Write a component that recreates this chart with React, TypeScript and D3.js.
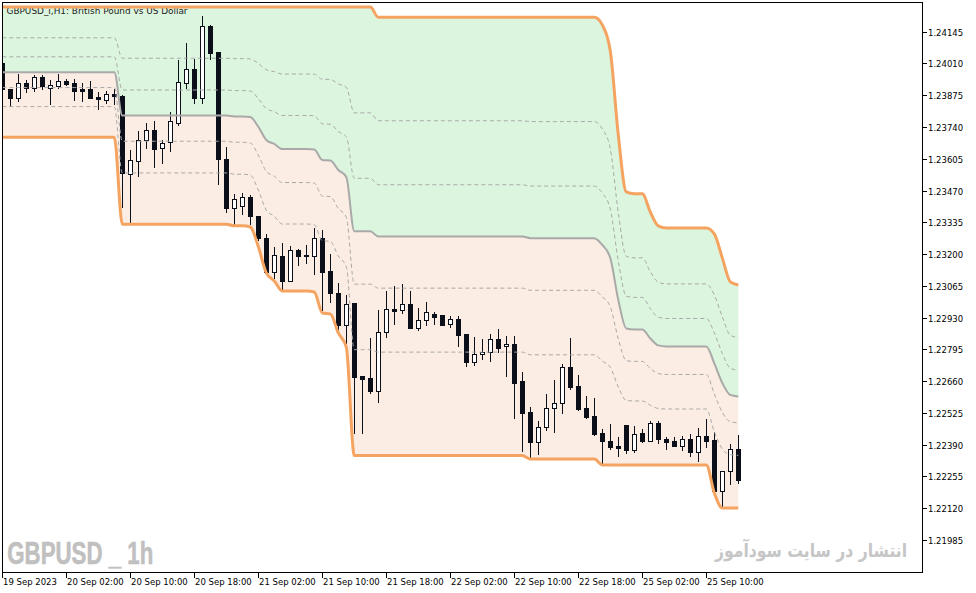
import * as d3 from "d3";

// GBPUSD H1, 19 Sep 18:00 -> 25 Sep 14:00 (one entry per bar)
const OPEN = [
  1.24012, 1.23902, 1.23864, 1.23927, 1.23905, 1.23952, 1.23905, 1.23916, 1.23937, 1.23927,
  1.23902, 1.23901, 1.23867, 1.23856, 1.2388, 1.23872, 1.23541, 1.23597, 1.23684, 1.23726,
  1.2365, 1.23678, 1.23756, 1.23929, 1.23985, 1.23865, 1.2417, 1.24058, 1.23603, 1.23395,
  1.23403, 1.23441, 1.23361, 1.23267, 1.23125, 1.23191, 1.23087, 1.23216, 1.23193, 1.23193,
  1.23267, 1.23127, 1.23036, 1.229, 1.22991, 1.22682, 1.22672, 1.2262, 1.22868, 1.22967,
  1.22961, 1.22987, 1.22887, 1.22919, 1.22946, 1.22941, 1.22902, 1.22923, 1.22859, 1.22743,
  1.22774, 1.22783, 1.22838, 1.22808, 1.22817, 1.22659, 1.22528, 1.22403, 1.22464, 1.22545,
  1.22566, 1.22719, 1.22638, 1.22545, 1.22511, 1.22438, 1.22404, 1.22385, 1.22472, 1.22366,
  1.22438, 1.22406, 1.22481, 1.22414, 1.22404, 1.22383, 1.22413, 1.22358, 1.22426, 1.22409,
  1.22195, 1.22277, 1.2237,
];
const HIGH = [
  1.24021, 1.23902, 1.23966, 1.23938, 1.2396, 1.23961, 1.2394, 1.23965, 1.23943, 1.23946,
  1.23926, 1.23937, 1.23887, 1.23893, 1.23903, 1.23876, 1.23643, 1.23723, 1.23756, 1.23766,
  1.23685, 1.23803, 1.24025, 1.24099, 1.24028, 1.24212, 1.24172, 1.24059, 1.23654, 1.23454,
  1.23458, 1.2345, 1.23362, 1.23284, 1.23229, 1.23246, 1.23233, 1.23223, 1.23237, 1.2331,
  1.23301, 1.23199, 1.23076, 1.23025, 1.22992, 1.22682, 1.22842, 1.22963, 1.23043, 1.23063,
  1.23072, 1.23043, 1.2297, 1.22995, 1.22953, 1.22941, 1.22936, 1.22936, 1.22859, 1.22848,
  1.22839, 1.22859, 1.2288, 1.22852, 1.22852, 1.22699, 1.2255, 1.22491, 1.22604, 1.22665,
  1.22732, 1.22844, 1.22685, 1.22596, 1.22587, 1.22457, 1.22477, 1.22424, 1.22472, 1.22471,
  1.22457, 1.22491, 1.22491, 1.22421, 1.22421, 1.22427, 1.22434, 1.2246, 1.22498, 1.22445,
  1.22277, 1.22392, 1.2243,
];
const LOW = [
  1.23898, 1.2383, 1.23851, 1.2389, 1.23895, 1.239, 1.23839, 1.23907, 1.2392, 1.23855,
  1.23852, 1.23864, 1.23818, 1.23843, 1.23838, 1.23398, 1.23338, 1.23533, 1.2365, 1.23572,
  1.23589, 1.2364, 1.23749, 1.23907, 1.23844, 1.23844, 1.24028, 1.23496, 1.2338, 1.23327,
  1.23369, 1.23329, 1.2326, 1.23116, 1.231, 1.2305, 1.23086, 1.23155, 1.23164, 1.23117,
  1.22961, 1.22998, 1.22878, 1.22821, 1.22438, 1.22438, 1.22611, 1.2257, 1.22849, 1.22902,
  1.22948, 1.22886, 1.22879, 1.22899, 1.22904, 1.229, 1.22889, 1.22811, 1.22726, 1.2273,
  1.22753, 1.22747, 1.22785, 1.22683, 1.22505, 1.22365, 1.22331, 1.22352, 1.22453, 1.22445,
  1.22523, 1.22628, 1.22538, 1.22502, 1.22433, 1.22309, 1.22373, 1.22343, 1.22353, 1.2236,
  1.224, 1.22406, 1.22396, 1.2237, 1.22383, 1.22366, 1.22343, 1.22322, 1.22382, 1.22195,
  1.22131, 1.22222, 1.22229,
];
const CLOSE = [
  1.23902, 1.23864, 1.23927, 1.23905, 1.23952, 1.23915, 1.23917, 1.23935, 1.23923, 1.23895,
  1.23894, 1.23865, 1.23857, 1.2388, 1.2387, 1.23543, 1.23599, 1.23683, 1.23726, 1.23648,
  1.23674, 1.23764, 1.23932, 1.23985, 1.23865, 1.24168, 1.24056, 1.23602, 1.23397, 1.23433,
  1.23441, 1.23361, 1.23267, 1.23125, 1.23195, 1.23087, 1.23216, 1.23193, 1.23195, 1.23267,
  1.23125, 1.23036, 1.229, 1.22989, 1.22679, 1.22671, 1.2262, 1.22868, 1.22965, 1.2296,
  1.22988, 1.22887, 1.22919, 1.22953, 1.22934, 1.229, 1.22923, 1.22858, 1.22743, 1.22774,
  1.22783, 1.22838, 1.22802, 1.22817, 1.22654, 1.22526, 1.22403, 1.22464, 1.22545, 1.22566,
  1.22719, 1.22637, 1.22542, 1.22509, 1.22437, 1.22404, 1.22382, 1.22377, 1.22366, 1.22437,
  1.22404, 1.22481, 1.22413, 1.224, 1.22383, 1.22413, 1.22358, 1.22426, 1.22407, 1.22195,
  1.22277, 1.2237, 1.22241,
];

// channel borders
const UPPER = [
  1.2425, 1.2425, 1.2425, 1.2425, 1.2425, 1.2425, 1.2425, 1.2425, 1.2425, 1.2425,
  1.2425, 1.2425, 1.2425, 1.2425, 1.2425, 1.2425, 1.2425, 1.2425, 1.2425, 1.2425,
  1.2425, 1.2425, 1.2425, 1.2425, 1.2425, 1.2425, 1.2425, 1.2425, 1.2425, 1.2425,
  1.2425, 1.2425, 1.2425, 1.2425, 1.2425, 1.2425, 1.2425, 1.2425, 1.2425, 1.2425,
  1.2425, 1.2425, 1.2425, 1.2425, 1.2425, 1.2425, 1.2425, 1.24206, 1.24206, 1.24206,
  1.24206, 1.24206, 1.24206, 1.24206, 1.24206, 1.24206, 1.24206, 1.24206, 1.24206, 1.24206,
  1.24206, 1.24206, 1.24206, 1.24206, 1.24206, 1.24206, 1.24206, 1.24206, 1.24206, 1.24206,
  1.24206, 1.24206, 1.24206, 1.24206, 1.24206, 1.24174, 1.24063, 1.23706, 1.23464, 1.23456,
  1.23456, 1.23379, 1.2332, 1.23311, 1.23311, 1.23311, 1.23311, 1.23311, 1.23311, 1.23286,
  1.23184, 1.23082, 1.23069,
];
const LOWER = [
  1.23696, 1.23696, 1.23696, 1.23696, 1.23696, 1.23696, 1.23696, 1.23696, 1.23696, 1.23696,
  1.23696, 1.23696, 1.23696, 1.23696, 1.23696, 1.23327, 1.23327, 1.23327, 1.23327, 1.23327,
  1.23327, 1.23327, 1.23327, 1.23327, 1.23327, 1.23327, 1.23327, 1.23327, 1.23327, 1.2332,
  1.2332, 1.23315, 1.23232, 1.2312, 1.23086, 1.23043, 1.23043, 1.23043, 1.23043, 1.23039,
  1.2295, 1.22946, 1.22865, 1.22805, 1.22344, 1.22344, 1.22344, 1.22344, 1.22344, 1.22344,
  1.22344, 1.22344, 1.22344, 1.22344, 1.22344, 1.22344, 1.22344, 1.22344, 1.22344, 1.22344,
  1.22344, 1.22344, 1.22344, 1.22344, 1.22344, 1.22344, 1.22329, 1.22329, 1.22329, 1.22329,
  1.22329, 1.22329, 1.22329, 1.22329, 1.22329, 1.22304, 1.22304, 1.22304, 1.22304, 1.22304,
  1.22304, 1.22304, 1.22304, 1.22304, 1.22304, 1.22304, 1.22304, 1.22304, 1.22304, 1.22185,
  1.22121, 1.22121, 1.22121,
];

const FIB_LEVELS = [0.236, 0.382, 0.618, 0.764];

const Y_TICKS = [
  1.24145, 1.2401, 1.23875, 1.2374, 1.23605, 1.2347, 1.23335, 1.232, 1.23065,
  1.2293, 1.22795, 1.2266, 1.22525, 1.2239, 1.22255, 1.2212, 1.21985,
];

const X_LABELS = [
  "19 Sep 2023", "20 Sep 02:00", "20 Sep 10:00", "20 Sep 18:00", "21 Sep 02:00", "21 Sep 10:00",
  "21 Sep 18:00", "22 Sep 02:00", "22 Sep 10:00", "22 Sep 18:00", "25 Sep 02:00", "25 Sep 10:00",
];
const BARS_PER_LABEL = 8;

const W = 976;
const H = 593;
const FRAME = { left: 2.5, top: 2.5, right: 922.5, bottom: 572.5 };
const DARK = "#0a0f1a";
const ORANGE = "#f4a460";
const GRAY = "#a9a9a9";
const FONT = "'DejaVu Sans', Tahoma, sans-serif";

export default function App() {
  const idx = d3.range(OPEN.length);
  const x = d3.scaleLinear().domain([0, 115]).range([2.3, 922.3]);
  const y = d3.scaleLinear().domain([1.21849, 1.2427]).range([572, 2.3]);

  const mid = idx.map((i) => (UPPER[i] + LOWER[i]) / 2);
  const fibs = FIB_LEVELS.map((f) => idx.map((i) => UPPER[i] - (UPPER[i] - LOWER[i]) * f));

  const line = d3
    .line<number>()
    .x((_, i) => x(i))
    .y((d) => y(d))
    .curve(d3.curveMonotoneX);

  const band = (top: number[], bottom: number[]) =>
    d3
      .area<number>()
      .x((i) => x(i))
      .y0((i) => y(bottom[i]))
      .y1((i) => y(top[i]))
      .curve(d3.curveMonotoneX)(idx) ?? "";

  return (
    <div style={{ position: "fixed", left: 0, top: 0, width: W, height: H, background: "#fff" }}>
      <svg width={W} height={H} viewBox={`0 0 ${W} ${H}`} style={{ display: "block" }}>
        <defs>
          <clipPath id="plot">
            <rect x={FRAME.left} y={FRAME.top} width={FRAME.right - FRAME.left} height={FRAME.bottom - FRAME.top} />
          </clipPath>
        </defs>
        <rect width={W} height={H} fill="#fff" />

        <g clipPath="url(#plot)">
          {/* channel fills */}
          <path d={band(UPPER, mid)} fill="#dcf5de" />
          <path d={band(mid, LOWER)} fill="#fbede3" />

          {/* watermark + title */}
          <text x={7.3} y={564.3} fontFamily="'Liberation Sans Narrow', 'Liberation Sans', sans-serif"
            fontWeight="bold" fontSize={31} fill="#c0c0c0" stroke="#c0c0c0" strokeWidth={0.6}
            textLength={146} lengthAdjust="spacingAndGlyphs">
            GBPUSD _ 1h
          </text>
          <text x={907} y={557} fontFamily="'DejaVu Sans', sans-serif" fontWeight="bold" fontSize={19}
            fill="#c6c6c6" textAnchor="end" textLength={192} lengthAdjust="spacingAndGlyphs">
            انتشار در سایت سودآموز
          </text>
          <text x={6.5} y={13.5} fontFamily={FONT} fontSize={9} fill="#222" textLength={181} lengthAdjust="spacingAndGlyphs">
            GBPUSD_i,H1:  British Pound vs US Dollar
          </text>

          {/* candles */}
          <g shapeRendering="crispEdges">
            {idx.map((i) => {
              const cx = Math.round(x(i)) + 0.5;
              const bull = CLOSE[i] >= OPEN[i];
              const yt = Math.round(y(Math.max(OPEN[i], CLOSE[i])));
              const yb = Math.round(y(Math.min(OPEN[i], CLOSE[i])));
              return (
                <g key={i}>
                  <line x1={cx} x2={cx} y1={Math.round(y(HIGH[i]))} y2={Math.round(y(LOW[i])) + 1} stroke={DARK} />
                  {yb - yt < 1 ? (
                    <line x1={cx - 2.5} x2={cx + 2.5} y1={yt + 0.5} y2={yt + 0.5} stroke={DARK} />
                  ) : bull ? (
                    <rect x={cx - 2} y={yt + 0.5} width={4} height={yb - yt} fill="#fff" stroke={DARK} />
                  ) : (
                    <rect x={cx - 2.5} y={yt} width={5} height={yb - yt + 1} fill={DARK} />
                  )}
                </g>
              );
            })}
          </g>

          {/* fibonacci levels, middle, borders */}
          {fibs.map((f, k) => (
            <path key={k} d={line(f) ?? ""} fill="none" stroke={GRAY} strokeWidth={1} strokeDasharray="4 3" />
          ))}
          <path d={line(mid) ?? ""} fill="none" stroke={GRAY} strokeWidth={2} />
          <path d={line(UPPER) ?? ""} fill="none" stroke={ORANGE} strokeWidth={3} />
          <path d={line(LOWER) ?? ""} fill="none" stroke={ORANGE} strokeWidth={3} />
        </g>

        {/* frame */}
        <rect x={FRAME.left} y={FRAME.top} width={FRAME.right - FRAME.left} height={FRAME.bottom - FRAME.top}
          fill="none" stroke="#000" shapeRendering="crispEdges" />

        {/* price axis */}
        <g fontFamily={FONT} fontSize={8.5} fill="#000">
          {Y_TICKS.map((t) => {
            const ty = Math.round(y(t)) + 0.5;
            return (
              <g key={t}>
                <line x1={FRAME.right} x2={FRAME.right + 4} y1={ty} y2={ty} stroke="#000" shapeRendering="crispEdges" />
                <text x={FRAME.right + 5.5} y={ty + 3.2}>{t.toFixed(5)}</text>
              </g>
            );
          })}
        </g>

        {/* time axis */}
        <g fontFamily={FONT} fontSize={8.5} fill="#000">
          {X_LABELS.map((label, k) => {
            const tx = Math.round(x(k * BARS_PER_LABEL)) + 0.5;
            return (
              <g key={label}>
                <line x1={tx} x2={tx} y1={FRAME.bottom} y2={FRAME.bottom + 5} stroke="#000" shapeRendering="crispEdges" />
                <text x={tx + 0.5} y={584.5}>{label}</text>
              </g>
            );
          })}
        </g>
      </svg>
    </div>
  );
}
